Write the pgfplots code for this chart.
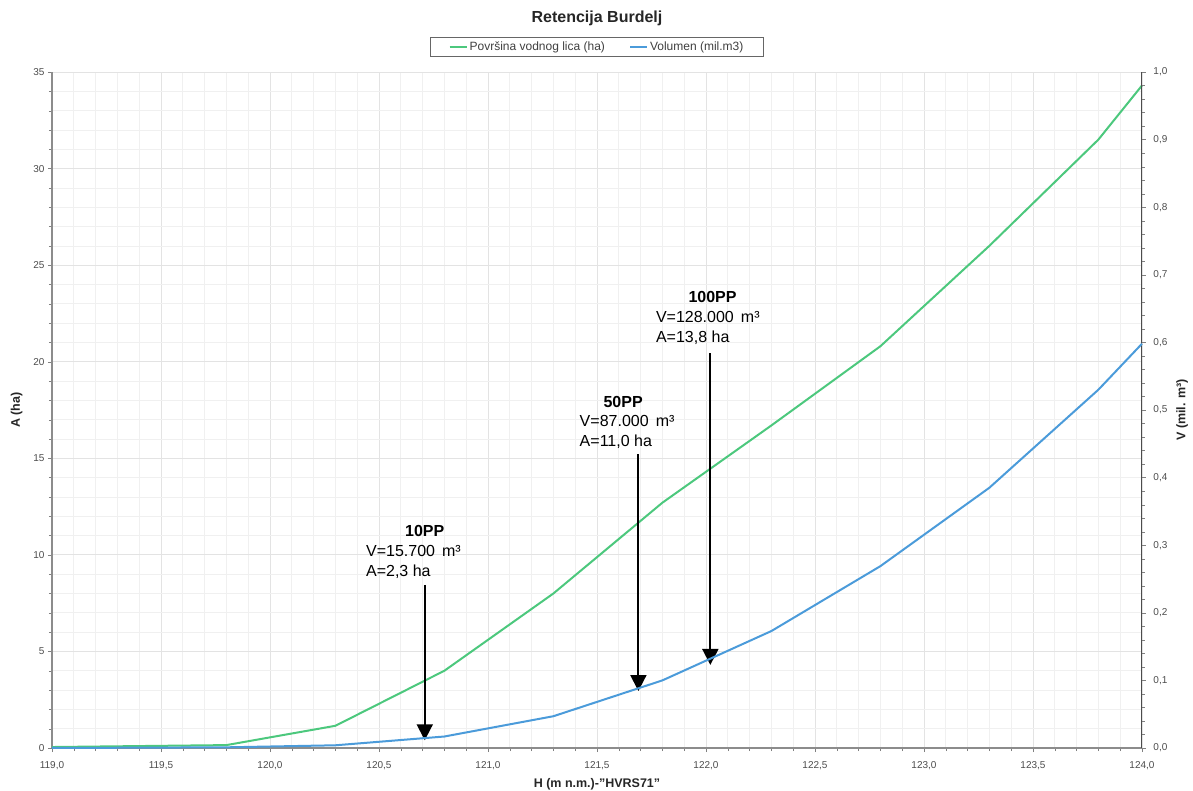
\documentclass[border=0pt]{standalone}
\usepackage{fontspec}
\setmainfont{Liberation Sans}
\usepackage{pgfplots}
\pgfplotsset{compat=1.18}
\usetikzlibrary{arrows.meta}
\definecolor{cA}{RGB}{76,200,125}
\definecolor{cV}{RGB}{75,155,218}
\begin{document}
\begin{tikzpicture}
\path[use as bounding box] (-52bp,-43bp) rectangle (1141bp,748bp);
\pgfplotsset{
  every axis/.append style={
    scale only axis, width=1090bp, height=676bp,
    xmin=119, xmax=124,
    tick align=outside,
    major tick length=4bp, minor tick length=3bp,
    tick label style={font=\fontsize{10bp}{11bp}\selectfont, text=black!70},
    label style={font=\fontsize{12.5bp}{15bp}\selectfont\bfseries, text=black!85},
    /pgf/number format/assume math mode=true,
  }
}
\begin{axis}[
  at={(0,0)}, anchor=south west,
  ymin=0, ymax=35,
  axis y line*=left, axis x line*=bottom,
  axis line style={draw=black!45, line width=2bp},
  xtick={119,119.5,120,120.5,121,121.5,122,122.5,123,123.5,124},
  minor x tick num=4,
  ytick={0,5,10,15,20,25,30,35},
  minor y tick num=4,
  grid=both,
  major grid style={draw=black!11, line width=0.8bp},
  minor grid style={draw=black!6, line width=0.6bp},
  xticklabel style={yshift=-6bp, /pgf/number format/.cd, fixed, fixed zerofill, precision=1, use comma},
  xlabel={H (m n.m.)-"HVRS71"},
  ylabel={A (ha)},
  ylabel style={yshift=4bp},
  xlabel style={yshift=-2bp},
  clip=false,
]
\addplot[cA, line width=2bp] coordinates {
(119.0,0.05) (119.8,0.15) (120.3,1.15) (120.8,4.0) (121.3,8.0) (121.8,12.7) (122.3,16.7) (122.8,20.8) (123.3,26.0) (123.8,31.5) (124.0,34.3)
};
% annotations
\draw[line width=2bp, -{Triangle[width=16bp,length=16bp]}] (axis cs:120.71,8.44) -- (axis cs:120.71,0.4);
\draw[line width=2bp, -{Triangle[width=16bp,length=16bp]}] (axis cs:121.69,15.2) -- (axis cs:121.69,2.95);
\draw[line width=2bp, -{Triangle[width=16bp,length=16bp]}] (axis cs:122.02,20.45) -- (axis cs:122.02,4.3);
\node[font=\fontsize{16bp}{18bp}\selectfont\bfseries] at (axis cs:120.71,11.24) {10PP};
\node[anchor=west, inner sep=0pt, font=\fontsize{16bp}{18bp}\selectfont] at (axis cs:120.44,10.20) {V=15.700\, m³};
\node[anchor=west, inner sep=0pt, font=\fontsize{16bp}{18bp}\selectfont] at (axis cs:120.44,9.11) {A=2,3 ha};
\node[font=\fontsize{16bp}{18bp}\selectfont\bfseries] at (axis cs:121.62,17.92) {50PP};
\node[anchor=west, inner sep=0pt, font=\fontsize{16bp}{18bp}\selectfont] at (axis cs:121.42,16.93) {V=87.000\, m³};
\node[anchor=west, inner sep=0pt, font=\fontsize{16bp}{18bp}\selectfont] at (axis cs:121.42,15.85) {A=11,0 ha};
\node[font=\fontsize{16bp}{18bp}\selectfont\bfseries] at (axis cs:122.03,23.36) {100PP};
\node[anchor=west, inner sep=0pt, font=\fontsize{16bp}{18bp}\selectfont] at (axis cs:121.77,22.32) {V=128.000\, m³};
\node[anchor=west, inner sep=0pt, font=\fontsize{16bp}{18bp}\selectfont] at (axis cs:121.77,21.23) {A=13,8 ha};
\end{axis}
\begin{axis}[
  at={(0,0)}, anchor=south west,
  ymin=0, ymax=1,
  axis y line*=right, axis x line=none,
  axis line style={draw=black!70, line width=1bp},
  ytick={0,0.1,0.2,0.3,0.4,0.5,0.6,0.7,0.8,0.9,1},
  minor y tick num=4,
  yticklabel style={xshift=4bp, /pgf/number format/.cd, fixed, fixed zerofill, precision=1, use comma},
  ylabel={V (mil. m³)},
  ylabel style={yshift=-2bp},
  legend columns=2,
  legend style={at={(0.5,1.037)}, anchor=center, draw=black!60, line width=0.8bp,
    font=\fontsize{12bp}{13bp}\selectfont, text=black!75,
    inner xsep=18bp, inner ysep=2bp,
    /tikz/every even column/.append style={column sep=22bp}},
  legend image post style={line width=2bp},
  clip=false,
]
\addlegendimage{cA, line width=2bp}
\addlegendentry{Površina vodnog lica (ha)}
\addplot[cV, line width=2bp] coordinates {
(119.0,0) (119.8,0.001) (120.3,0.004) (120.8,0.017) (121.3,0.047) (121.8,0.100) (122.3,0.173) (122.8,0.269) (123.3,0.385) (123.8,0.530) (124.0,0.598)
};
\addlegendentry{Volumen (mil.m3)}
\end{axis}
\node[font=\fontsize{16bp}{18bp}\selectfont\bfseries, text=black!85] at (545bp,730bp) {Retencija Burdelj};
\end{tikzpicture}
\end{document}
